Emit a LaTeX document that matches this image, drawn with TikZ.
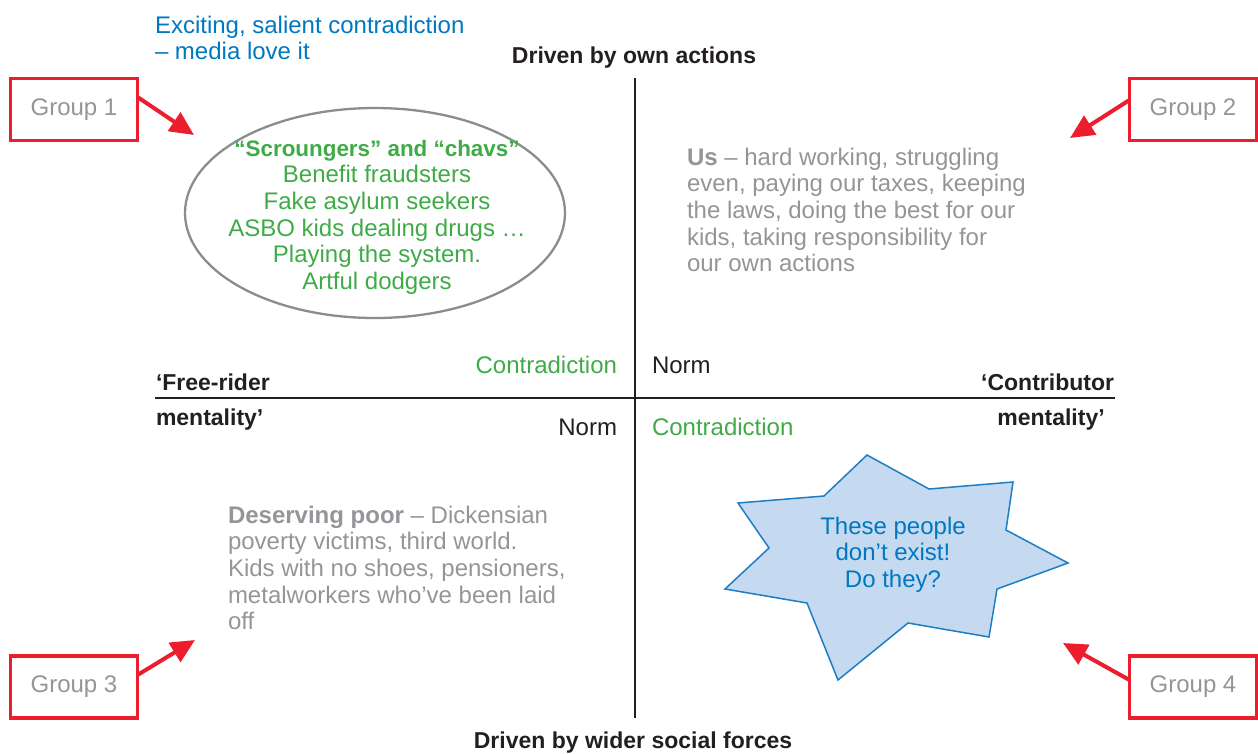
\documentclass[tikz,border=0pt]{standalone}
\usepackage{fontspec}
\setmainfont{Liberation Sans}
\usetikzlibrary{arrows.meta,shapes.geometric}

\definecolor{alertred}{RGB}{236,30,45}
\definecolor{greytext}{RGB}{148,149,153}
\definecolor{greenText}{RGB}{63,171,71}
\definecolor{blueText}{RGB}{0,120,192}
\definecolor{starFill}{RGB}{197,218,240}
\definecolor{starLine}{RGB}{30,125,195}
\definecolor{ellGrey}{RGB}{140,140,140}
\definecolor{axisBlack}{RGB}{35,31,32}

\begin{document}
\begin{tikzpicture}[x=1pt,y=-1pt,
  every node/.style={inner sep=0pt,outer sep=0pt},
  txt/.style={font=\fontsize{24}{26.7}\selectfont},
  axislabel/.style={font=\fontsize{23}{26}\selectfont\bfseries,text=axisBlack},
  groupbox/.style={txt,draw=alertred,line width=3.5pt,minimum width=127pt,
    minimum height=62pt,text=greytext},
  pointer/.style={draw=alertred,line width=4pt,
    -{Triangle[length=24pt,width=22pt]}},
  axisline/.style={draw=axisBlack,line width=2.5pt}]

\useasboundingbox (0,0) rectangle (1258,753);

% quadrant axes
\coordinate (vtop) at (635,78);
\coordinate (vbot) at (635,718);
\coordinate (hleft) at (155,398);
\coordinate (hright) at (1115,398);
\draw[axisline] (vtop) -- (vbot);
\draw[axisline] (hleft) -- (hright);

% axis labels
\node[axislabel,anchor=base] (own) at (634,63) {Driven by own actions};
\node[axislabel,anchor=base] (social) at (633,748) {Driven by wider social forces};
\node[axislabel,anchor=base west] (free1) at (156,390) {‘Free-rider};
\node[axislabel,anchor=base west] (free2) at (156,425) {mentality’};
\node[axislabel,anchor=base east] (contr1) at (1114,390) {‘Contributor};
\node[axislabel,anchor=base] (contr2) at (1051,425) {mentality’};

% norm / contradiction markers
\node[txt,text=greenText,anchor=base east] (c1) at (617,373) {Contradiction};
\node[txt,text=axisBlack,anchor=base west] (n1) at (652,373) {Norm};
\node[txt,text=axisBlack,anchor=base east] (n2) at (617,435) {Norm};
\node[txt,text=greenText,anchor=base west] (c2) at (652,435) {Contradiction};

% top-left quadrant
\node[txt,text=blueText,align=left,anchor=north west] (media) at (155,14)
  {\rule{0pt}{19pt}Exciting, salient contradiction\\– media love it};
\node[ellipse,draw=ellGrey,line width=2.3pt,minimum width=380pt,
  minimum height=210pt] (ell) at (375,213) {};
\node[txt,text=greenText,align=center,anchor=north] (scroungers) at (377,137)
  {\rule{0pt}{19pt}{\fontsize{22.4}{26.7}\selectfont\bfseries “Scroungers” and “chavs”}\\
   Benefit fraudsters\\
   Fake asylum seekers\\ASBO kids dealing drugs …\\Playing the system.\\
   Artful dodgers};

% top-right quadrant
\node[txt,text=greytext,align=left,anchor=north west] (us) at (687,146)
  {\rule{0pt}{19pt}\textbf{Us} – hard working, struggling\\
   even, paying our taxes, keeping\\the laws, doing the best for our\\
   kids, taking responsibility for\\our own actions};

% bottom-left quadrant
\node[txt,text=greytext,align=left,anchor=north west] (poor) at (228,504)
  {\rule{0pt}{19pt}\textbf{Deserving poor} – Dickensian\\
   poverty victims, third world.\\Kids with no shoes, pensioners,\\
   metalworkers who’ve been laid\\off};

% bottom-right quadrant: starburst
\draw[fill=starFill,draw=starLine,line width=1.5pt,line join=miter]
  (867,455) -- (929,489) -- (1013,482) -- (1006,530) -- (1068,563)
  -- (997,589) -- (989,637) -- (908,623) -- (838,680) -- (807,603)
  -- (725,589) -- (769,548) -- (738,503) -- (824,496) -- cycle;
\node[txt,text=blueText,align=center,anchor=north] (exist) at (893,515)
  {\rule{0pt}{19pt}These people\\don’t exist!\\Do they?};

% group labels and pointers
\node[groupbox] (g1) at (74,109.5) {Group 1};
\node[groupbox] (g2) at (1193,109.5) {Group 2};
\node[groupbox] (g3) at (74,687) {Group 3};
\node[groupbox] (g4) at (1193,687) {Group 4};

\coordinate (t1) at (194,135);
\coordinate (t2) at (1070,138);
\coordinate (t3) at (195,640);
\coordinate (t4) at (1063,643);

\draw[pointer] ([yshift=12.5pt]g1.east) -- (t1);
\draw[pointer] ([yshift=9.5pt]g2.west) -- (t2);
\draw[pointer] ([yshift=12pt]g3.east) -- (t3);
\draw[pointer] ([yshift=7pt]g4.west) -- (t4);

\end{tikzpicture}
\end{document}
